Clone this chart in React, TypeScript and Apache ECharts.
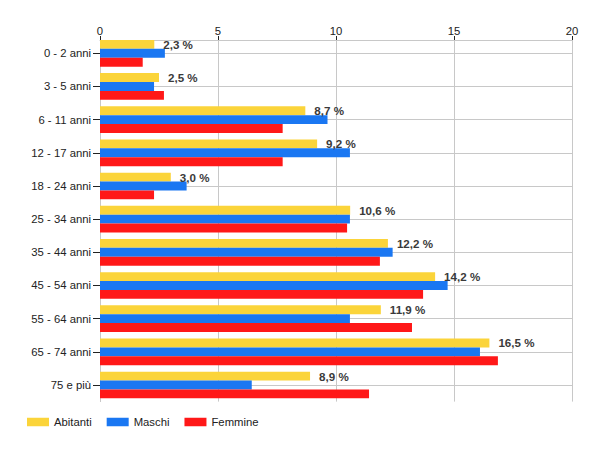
import React, { useEffect, useRef } from "react";
import * as echarts from "echarts";

const categories = [
  "0 - 2 anni",
  "3 - 5 anni",
  "6 - 11 anni",
  "12 - 17 anni",
  "18 - 24 anni",
  "25 - 34 anni",
  "35 - 44 anni",
  "45 - 54 anni",
  "55 - 64 anni",
  "65 - 74 anni",
  "75 e più",
];
const abitanti = [2.3, 2.5, 8.7, 9.2, 3.0, 10.6, 12.2, 14.2, 11.9, 16.5, 8.9];
const maschi = [2.75, 2.29, 9.64, 10.59, 3.67, 10.59, 12.4, 14.73, 10.59, 16.1, 6.43];
const femmine = [1.81, 2.71, 7.74, 7.74, 2.29, 10.47, 11.86, 13.69, 13.22, 16.86, 11.4];
const xTicks = { min: 0, max: 20, interval: 5 };

const FONT = "Liberation Sans, Arial, sans-serif";
const FS = 11.3;

export default function App() {
  const ref = useRef<HTMLDivElement>(null);
  useEffect(() => {
    document.body.style.margin = "0";
    if (!ref.current) return;
    const chart = echarts.init(ref.current, undefined, { renderer: "svg" });
    chart.setOption({
      animation: false,
      textStyle: { fontFamily: FONT },
      grid: { left: 100, right: 28, top: 36.7, bottom: 48.4, containLabel: false },
      legend: {
        data: ["Abitanti", "Maschi", "Femmine"],
        left: 27,
        top: 416.5,
        padding: 0,
        icon: "rect",
        itemWidth: 22,
        itemHeight: 8.5,
        itemGap: 15,
        textStyle: { fontFamily: FONT, fontSize: FS, color: "#222" },
      },
      xAxis: {
        type: "value",
        position: "top",
        offset: -3.3,
        min: xTicks.min,
        max: xTicks.max,
        interval: xTicks.interval,
        axisLine: { show: true, lineStyle: { color: "#c8c8c8" } },
        axisTick: { show: true, length: 4, lineStyle: { color: "#222" } },
        axisLabel: { fontFamily: FONT, fontSize: FS, color: "#222", margin: 4 },
        splitLine: { show: true, lineStyle: { color: "#c8c8c8" } },
      },
      yAxis: {
        type: "category",
        inverse: true,
        data: categories,
        axisLine: { show: true, lineStyle: { color: "#c8c8c8" } },
        axisTick: { show: true, alignWithLabel: true, length: 7, lineStyle: { color: "#222" } },
        axisLabel: { fontFamily: FONT, fontSize: FS, color: "#222", margin: 9 },
        splitLine: { show: false },
      },
      series: [
        {
          name: "grid",
          type: "line",
          data: [],
          z: 0,
          silent: true,
          markLine: {
            z: 1,
            silent: true,
            symbol: ["none", "none"],
            label: { show: false },
            lineStyle: { color: "#c8c8c8", type: "solid", width: 1 },
            data: categories.map((c) => ({ yAxis: c })),
          },
        },
        {
          name: "Abitanti",
          type: "bar",
          data: abitanti,
          barGap: "0%",
          barCategoryGap: "19.5%",
          itemStyle: { color: "#fbd43a" },
          label: {
            show: true,
            position: "right",
            distance: 9,
            fontFamily: FONT,
            fontSize: 11.6,
            fontWeight: "bold",
            color: "#3a3a3a",
            formatter: (p: any) => p.value.toFixed(1).replace(".", ",") + " %",
          },
        },
        {
          name: "Maschi",
          type: "bar",
          data: maschi,
          barGap: "0%",
          barCategoryGap: "19.5%",
          itemStyle: { color: "#1a77f2" },
        },
        {
          name: "Femmine",
          type: "bar",
          data: femmine,
          barGap: "0%",
          barCategoryGap: "19.5%",
          itemStyle: { color: "#ff1818" },
        },
      ],
    });
    return () => chart.dispose();
  }, []);
  return <div ref={ref} style={{ width: 600, height: 450 }} />;
}
